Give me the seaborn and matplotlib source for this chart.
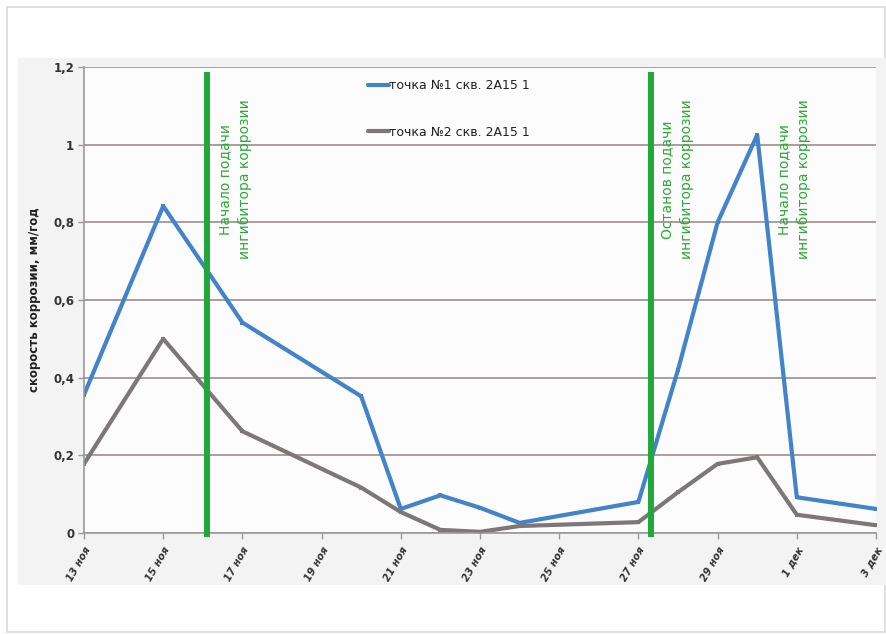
import numpy as np
import pandas as pd
import matplotlib
matplotlib.use("Agg")
import matplotlib.pyplot as plt
from matplotlib.patches import Rectangle
import seaborn as sns

# ---- data (x = days since 13 ноя) ----
days = [0, 2, 4, 7, 8, 9, 10, 11, 14, 15, 16, 17, 18, 20]
point1 = [0.356, 0.842, 0.542, 0.352, 0.062, 0.097, 0.065, 0.026, 0.080, 0.42, 0.80, 1.025, 0.092, 0.062]
point2 = [0.178, 0.500, 0.262, 0.117, 0.054, 0.008, 0.003, 0.018, 0.028, 0.105, 0.178, 0.195, 0.047, 0.020]
series_names = ["точка №1 скв. 2А15 1", "точка №2 скв. 2А15 1"]
tick_days = [0, 2, 4, 6, 8, 10, 12, 14, 16, 18, 20]
tick_labels = ["13 ноя", "15 ноя", "17 ноя", "19 ноя", "21 ноя", "23 ноя",
               "25 ноя", "27 ноя", "29 ноя", "1 дек", "3 дек"]
y_ticks = [0, 0.2, 0.4, 0.6, 0.8, 1.0, 1.2]
y_tick_labels = ["0", "0,2", "0,4", "0,6", "0,8", "1", "1,2"]
event_lines = [3.1, 14.32]
event_text_x = [3.82, 14.97, 17.93]
event_texts = ["Начало подачи\nингибитора коррозии",
               "Останов подачи\nингибитора коррозии",
               "Начало подачи\nингибитора коррозии"]
y_label = "скорость коррозии, мм/год"

df = pd.DataFrame({
    "day": days * 2,
    "value": point1 + point2,
    "series": [series_names[0]] * len(days) + [series_names[1]] * len(days),
})

sns.set_style("white")
plt.rcParams["font.family"] = ["DejaVu Sans"]

W, H = 886, 634
fig = plt.figure(figsize=(W / 100, H / 100), dpi=100)
fig.patch.set_facecolor("white")
# outer frame and chart area background
fig.add_artist(Rectangle((7 / W, 1 - 632 / H), 878 / W, 625 / H, transform=fig.transFigure,
                         facecolor="white", edgecolor="#d9d9d9", lw=1.2, zorder=-3))
fig.add_artist(Rectangle((18 / W, 1 - 585 / H), 868 / W, 527 / H, transform=fig.transFigure,
                         facecolor="#f3f3f3", edgecolor="none", zorder=-2))

ax = fig.add_axes([84 / W, 1 - 533 / H, 792 / W, 466 / H])
ax.set_facecolor("#fcfcfc")

palette = {series_names[0]: "#4283c9", series_names[1]: "#7d7778"}
sns.lineplot(data=df, x="day", y="value", hue="series", palette=palette, ax=ax,
             linewidth=3.0, marker="s", markersize=3.5, markeredgewidth=0, legend=True)

ax.set_xlim(0, 20)
ax.set_ylim(0, 1.2)
ax.set_yticks(y_ticks)
ax.set_yticklabels(y_tick_labels, fontsize=8.5, fontweight="bold", color="#333333")
ax.set_xticks(tick_days)
ax.set_xticklabels(tick_labels, rotation=60, ha="right", rotation_mode="anchor",
                   fontsize=7.3, fontstyle="italic", fontweight="bold", color="#333333")
ax.tick_params(axis="both", which="both", length=4, width=1, color="#9a9a9a",
               direction="out", bottom=True, left=True, pad=3)
ax.tick_params(axis="x", pad=5)

for y in y_ticks:
    ax.axhline(y, color="#a39696", lw=1.3, zorder=0.5)

for s in ["top", "right"]:
    ax.spines[s].set_visible(False)
ax.spines["left"].set_color("#9a9a9a")
ax.spines["bottom"].set_color("#9a9a9a")
ax.spines["left"].set_linewidth(1.2)
ax.spines["bottom"].set_linewidth(1.2)

for xv in event_lines:
    ax.plot([xv, xv], [-0.01, 1.187], color="#22a83a", lw=4.3, zorder=3,
            solid_capstyle="butt", clip_on=False)

for xv, t in zip(event_text_x, event_texts):
    ax.text(xv, 0.91, t, rotation=90, ha="center", va="center", multialignment="center",
            fontsize=10, color="#2eaa3a", linespacing=1.55, zorder=4)

ax.set_xlabel("")
ax.set_ylabel(y_label, fontsize=8.5, fontweight="bold", color="#222222", labelpad=9)

leg = ax.legend(loc="upper left", bbox_to_anchor=(0.352, 0.985), frameon=False,
                fontsize=9, labelspacing=2.7, handlelength=1.7, handletextpad=0.0,
                borderaxespad=0)
for line in leg.get_lines():
    line.set_linewidth(3.0)
    line.set_marker("")
for txt in leg.get_texts():
    txt.set_color("#222222")

fig.savefig("out.png", dpi=100)
